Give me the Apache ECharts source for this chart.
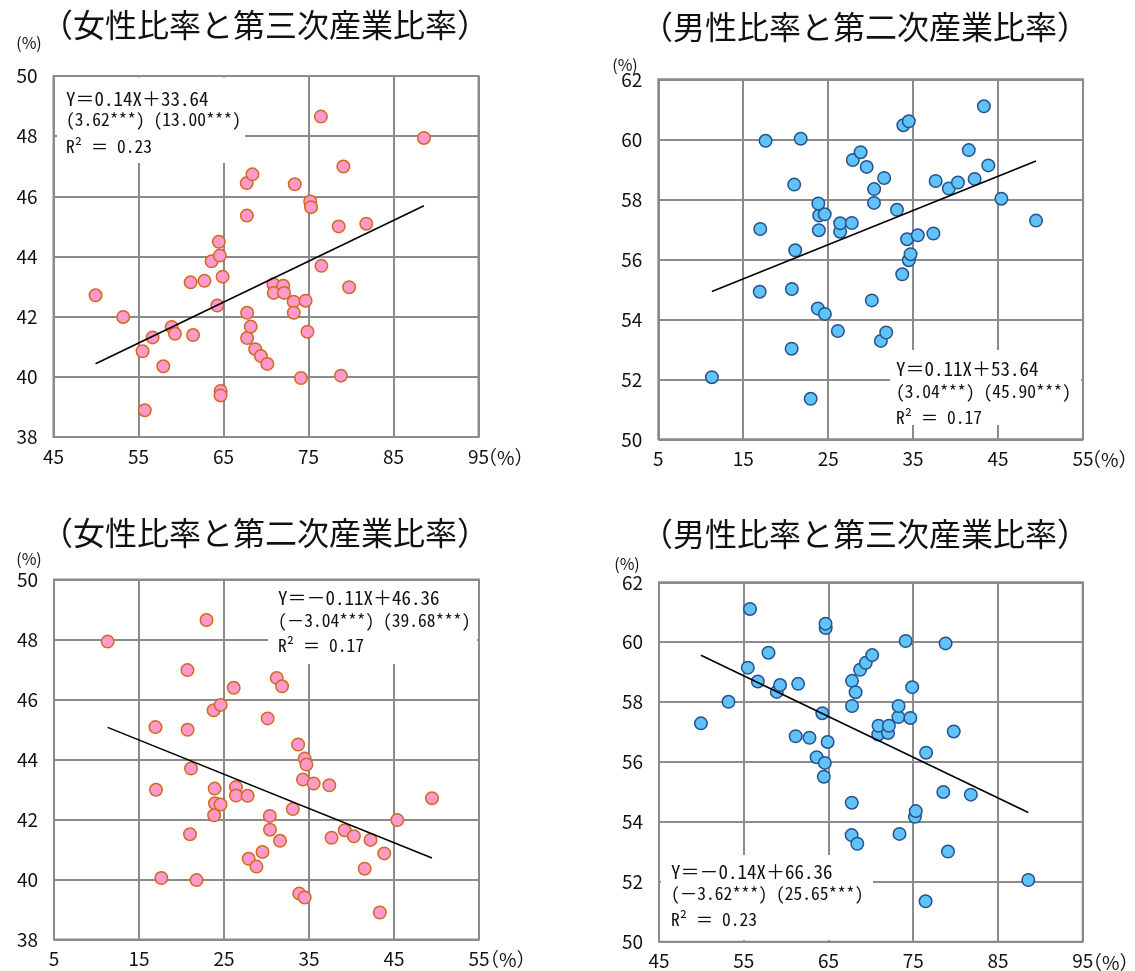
<!DOCTYPE html>
<html lang="ja">
<head>
<meta charset="utf-8">
<title>男女比率と産業比率</title>
<script src="https://cdn.jsdelivr.net/npm/echarts@6/dist/echarts.min.js"></script>
<style>
  html, body { margin: 0; padding: 0; background: #fff; }
  #chart { width: 1135px; height: 971px; }
</style>
</head>
<body>
<div id="chart"></div>
<script>
// 都道府県別：第三次産業比率（%）と女性・男性比率（%）
const tertiaryShare = [
  49.95, 53.20, 55.48, 55.74, 56.66, 57.92, 58.90, 59.29, 61.13, 61.42,
  62.76, 63.60, 64.27, 64.45, 64.57, 64.90, 64.67, 64.65, 67.73, 68.40,
  67.75, 67.78, 67.78, 68.20, 68.73, 69.40, 70.16, 70.87, 70.91, 72.03,
  72.13, 76.46, 88.58, 79.10, 73.38, 75.20, 75.30, 78.55, 81.80, 76.52,
  79.78, 73.25, 74.66, 73.27, 74.88, 74.11, 78.82
];
const femaleByTertiary = [
  42.71, 41.99, 40.85, 38.89, 41.31, 40.35, 41.66, 41.43, 43.14, 41.39,
  43.19, 43.84, 42.37, 44.49, 44.03, 43.33, 39.53, 39.38, 46.44, 46.73,
  45.36, 42.13, 41.29, 41.67, 40.92, 40.69, 40.43, 43.08, 42.79, 43.03,
  42.79, 48.65, 47.94, 46.99, 46.40, 45.83, 45.64, 45.00, 45.09, 43.69,
  42.98, 42.50, 42.53, 42.13, 41.50, 39.96, 40.04
];
const maleByTertiary = [
  57.29, 58.01, 59.15, 61.11, 58.69, 59.65, 58.34, 58.57, 56.86, 58.61,
  56.81, 56.16, 57.63, 55.51, 55.97, 56.67, 60.47, 60.62, 53.56, 53.27,
  54.64, 57.87, 58.71, 58.33, 59.08, 59.31, 59.57, 56.92, 57.21, 56.97,
  57.21, 51.35, 52.06, 53.01, 53.60, 54.17, 54.36, 55.00, 54.91, 56.31,
  57.02, 57.50, 57.47, 57.87, 58.50, 60.04, 59.96
];

// 都道府県別：第二次産業比率（%）と女性・男性比率（%）
const secondaryShare = [
  11.31, 22.94, 20.70, 26.14, 31.20, 31.83, 23.78, 24.61, 30.14, 16.94,
  20.72, 21.12, 17.00, 23.90, 23.94, 24.59, 23.84, 26.41, 26.41, 27.78,
  30.39, 30.41, 31.59, 21.00, 27.90, 28.82, 29.53, 17.63, 21.77, 33.10,
  33.72, 34.49, 34.70, 34.29, 35.55, 37.39, 49.47, 45.39, 39.20, 40.28,
  42.24, 37.65, 43.85, 41.55, 33.85, 34.49, 43.33
];
const femaleBySecondary = [
  47.93, 48.65, 46.98, 46.39, 46.72, 46.44, 45.64, 45.82, 45.37, 45.08,
  44.99, 43.70, 42.99, 43.03, 42.54, 42.50, 42.14, 43.08, 42.80, 42.79,
  42.12, 41.66, 41.29, 41.51, 40.69, 40.43, 40.92, 40.05, 39.98, 42.35,
  44.50, 44.03, 43.83, 43.33, 43.20, 43.14, 42.71, 41.98, 41.64, 41.44,
  41.32, 41.39, 40.87, 40.36, 39.53, 39.40, 38.90
];
const maleBySecondary = [
  52.07, 51.35, 53.02, 53.61, 53.28, 53.56, 54.36, 54.18, 54.63, 54.92,
  55.01, 56.30, 57.01, 56.97, 57.46, 57.50, 57.86, 56.92, 57.20, 57.21,
  57.88, 58.34, 58.71, 58.49, 59.31, 59.57, 59.08, 59.95, 60.02, 57.65,
  55.50, 55.97, 56.17, 56.67, 56.80, 56.86, 57.29, 58.02, 58.36, 58.56,
  58.68, 58.61, 59.13, 59.64, 60.47, 60.60, 61.10
];

// パネル順：左上・右上・左下・右下
const panelTitles = [
  '（女性比率と第三次産業比率）',
  '（男性比率と第二次産業比率）',
  '（女性比率と第二次産業比率）',
  '（男性比率と第三次産業比率）'
];
const xRanges = [[45, 95], [5, 55], [5, 55], [45, 95]];
const yRanges = [[38, 50], [50, 62], [38, 50], [50, 62]];
const xStep = 10;
const yStep = 2;

// 回帰式 Y = aX + b とその t 値・決定係数
const slopes = [0.136, 0.114, -0.114, -0.136];
const intercepts = [33.64, 53.64, 46.36, 66.36];
const slopeT = ['3.62', '3.04', '－3.04', '－3.62'];
const interceptT = ['13.00', '45.90', '39.68', '25.65'];
const rSquared = [0.23, 0.17, 0.17, 0.23];

const panelX = [tertiaryShare, secondaryShare, secondaryShare, tertiaryShare];
const panelY = [femaleByTertiary, maleBySecondary, femaleBySecondary, maleByTertiary];

const PINK = { color: '#fd9acb', borderColor: '#d2691e' };
const BLUE = { color: '#5fc3f8', borderColor: '#26508f' };
const panelStyle = [PINK, BLUE, PINK, BLUE];

// 描画領域のレイアウト
const grids = [
  { left: 53.5, top: 76, width: 425, height: 361 },
  { left: 658.3, top: 79.3, width: 424.7, height: 360 },
  { left: 54, top: 579.5, width: 425, height: 360 },
  { left: 659, top: 582.3, width: 423.7, height: 359.4 }
];
const titlePos = [[265, 25], [865, 27], [265, 533], [865, 534]];
const unitPos = [[29, 43], [625, 65], [29, 559], [627, 564]];
const xUnitPos = [[478, 458], [1082, 460], [480, 960], [1083, 963]];
const boxRects = [
  [57, 77.5, 188, 85.5],
  [890, 350, 191, 75],
  [268, 581, 209, 83],
  [661, 855, 212, 85]
];
const eqPos = [
  [66, 99, 119, 146],
  [896, 369, 391, 417],
  [278, 598, 620, 645],
  [671, 872, 893, 919]
];
const eqFontSize = [19, 17.5, 17.5];

const GRID_COLOR = '#8b8b8b';
const LABEL_FONT = '"Noto Sans CJK JP", "Noto Sans", sans-serif';
const EQ_FONT = '"Noto Sans Mono CJK JP", "Noto Sans CJK JP", monospace';

function fmtCoef(v) {
  return (v < 0 ? '－' : '') + Math.abs(v).toFixed(2);
}

const option = {
  animation: false,
  backgroundColor: '#fff',
  grid: [],
  xAxis: [],
  yAxis: [],
  series: [],
  graphic: []
};

for (let i = 0; i < 4; i++) {
  option.grid.push(Object.assign({
    show: true, borderColor: GRID_COLOR, borderWidth: 2, backgroundColor: '#fff'
  }, grids[i]));

  option.xAxis.push({
    type: 'value', gridIndex: i,
    min: xRanges[i][0], max: xRanges[i][1], interval: xStep,
    axisLine: { show: false }, axisTick: { show: false },
    splitLine: { show: true, lineStyle: { color: GRID_COLOR, width: 2 } },
    axisLabel: { color: '#111', fontSize: 19, fontFamily: LABEL_FONT, margin: 10 }
  });
  option.yAxis.push({
    type: 'value', gridIndex: i,
    min: yRanges[i][0], max: yRanges[i][1], interval: yStep,
    axisLine: { show: false }, axisTick: { show: false },
    splitLine: { show: true, lineStyle: { color: GRID_COLOR, width: 2 } },
    axisLabel: { color: '#111', fontSize: 19, fontFamily: LABEL_FONT, margin: 16 }
  });

  const xs = panelX[i], ys = panelY[i];
  option.series.push({
    type: 'scatter', xAxisIndex: i, yAxisIndex: i,
    symbol: 'circle', symbolSize: 12.5, z: 3,
    itemStyle: { color: panelStyle[i].color, borderColor: panelStyle[i].borderColor, borderWidth: 1.5, opacity: 1 },
    data: xs.map((x, k) => [x, ys[k]])
  });

  // 回帰直線（データの最小値〜最大値の範囲）
  const xMin = Math.min.apply(null, xs), xMax = Math.max.apply(null, xs);
  option.series.push({
    type: 'line', xAxisIndex: i, yAxisIndex: i,
    symbol: 'none', silent: true, z: 4,
    lineStyle: { color: '#000', width: 1.6 },
    data: [[xMin, slopes[i] * xMin + intercepts[i]], [xMax, slopes[i] * xMax + intercepts[i]]]
  });

  // タイトル
  option.graphic.push({
    type: 'text', x: titlePos[i][0], y: titlePos[i][1], z: 10,
    style: {
      text: panelTitles[i], fill: '#111',
      font: '32px ' + LABEL_FONT,
      textAlign: 'center', textVerticalAlign: 'middle', align: 'center', verticalAlign: 'middle'
    }
  });
  // 縦軸の単位
  option.graphic.push({
    type: 'text', x: unitPos[i][0], y: unitPos[i][1], z: 10,
    style: {
      text: '(%)', fill: '#111', font: '16px ' + LABEL_FONT,
      textAlign: 'center', textVerticalAlign: 'middle', align: 'center', verticalAlign: 'middle'
    }
  });
  // 横軸の単位
  option.graphic.push({
    type: 'text', x: xUnitPos[i][0], y: xUnitPos[i][1], z: 10,
    style: {
      text: '（%）', fill: '#111', font: '19px ' + LABEL_FONT,
      textAlign: 'left', textVerticalAlign: 'middle', align: 'left', verticalAlign: 'middle'
    }
  });

  // 回帰式の囲み
  const b = boxRects[i];
  option.graphic.push({
    type: 'rect', z: 1,
    shape: { x: b[0], y: b[1], width: b[2], height: b[3] },
    style: { fill: '#fff' }
  });
  const lines = [
    'Y＝' + fmtCoef(slopes[i]) + 'X＋' + intercepts[i].toFixed(2),
    '(' + slopeT[i] + '***) (' + interceptT[i] + '***)',
    'R² ＝ ' + rSquared[i].toFixed(2)
  ];
  for (let k = 0; k < 3; k++) {
    option.graphic.push({
      type: 'text', x: eqPos[i][0], y: eqPos[i][k + 1], z: 10,
      style: {
        text: lines[k], fill: '#111', font: eqFontSize[k] + 'px ' + EQ_FONT,
        textAlign: 'left', textVerticalAlign: 'middle', align: 'left', verticalAlign: 'middle'
      }
    });
  }
}

const chart = echarts.init(document.getElementById('chart'), null, { renderer: 'canvas' });
chart.setOption(option);
</script>
</body>
</html>
